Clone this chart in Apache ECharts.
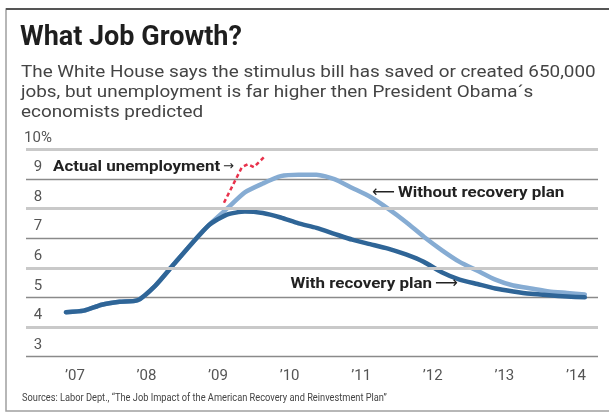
<!DOCTYPE html>
<html>
<head>
<meta charset="utf-8">
<script src="https://cdn.jsdelivr.net/npm/echarts@6/dist/echarts.min.js"></script>
<style>html,body{margin:0;padding:0;background:#fff}#c{width:609px;height:413px}</style>
</head>
<body>
<div id="c"></div>
<script>
// Quarterly points, 2006Q4 .. 2014Q1
const quarters = ['2006Q4','2007Q1','2007Q2','2007Q3','2007Q4','2008Q1','2008Q2','2008Q3','2008Q4',
  '2009Q1','2009Q2','2009Q3','2009Q4','2010Q1','2010Q2','2010Q3','2010Q4','2011Q1','2011Q2','2011Q3','2011Q4',
  '2012Q1','2012Q2','2012Q3','2012Q4','2013Q1','2013Q2','2013Q3','2013Q4','2014Q1'];
const withPlan = [4.5,4.55,4.75,4.85,4.9,5.4,6.1,6.8,7.45,
  7.8,7.9,7.85,7.7,7.5,7.35,7.15,6.95,6.8,6.65,6.45,6.2,
  5.85,5.6,5.45,5.3,5.2,5.12,5.07,5.03,5.0];
const withoutPlan = [4.5,4.55,4.75,4.85,4.9,5.4,6.1,6.8,7.45,
  8.0,8.55,8.85,9.1,9.15,9.15,9.0,8.7,8.4,8.0,7.55,7.05,
  6.6,6.2,5.9,5.6,5.4,5.3,5.2,5.15,5.1];
// Actual unemployment, monthly 2009
const months = ['2009-02','2009-03','2009-04','2009-05','2009-06','2009-07','2009-08','2009-09'];
const actual = [8.2,8.6,9.0,9.4,9.5,9.4,9.6,9.8];
const yearTicks = [2007,2008,2009,2010,2011,2012,2013,2014];
const yTicks = [3,4,5,6,7,8,9,10];
const evenLines = [4,6,8,10];

function qPos(q){ const y=+q.slice(0,4), n=+q.slice(5); return y+(n-1)*0.25+0.125; }
function mPos(m){ const y=+m.slice(0,4), n=+m.slice(5); return y+(n-1)/12; }

const chart = echarts.init(document.getElementById('c'), null, {renderer:'canvas'});
const FF = 'Roboto, "DejaVu Sans", sans-serif';
chart.setOption({
  animation:false,
  backgroundColor:'#fff',
  grid:{left:26,right:11,top:149.5,bottom:56.5},
  xAxis:{type:'value',min:2006.317,max:2014.309,
    axisLine:{show:false},axisTick:{show:false},splitLine:{show:false},
    axisLabel:{customValues:yearTicks,color:'#555',fontSize:15,fontFamily:FF,margin:12,
      formatter:v=>'\u2019'+String(Math.round(v)).slice(2)}},
  yAxis:{type:'value',min:3,max:10,interval:1,
    axisLine:{show:false},axisTick:{show:false},
    splitLine:{show:true,lineStyle:{color:'#8a8a8a',width:1.3}},
    axisLabel:{inside:true,margin:12,align:'center',verticalAlign:'bottom',lineHeight:15,
      padding:[0,0,4,0],color:'#555',fontSize:15,fontFamily:FF,
      formatter:v=>v===10?'10%':String(v)}},
  series:[
    {type:'line',data:[],z:1,silent:true,
      markLine:{silent:true,symbol:['none','none'],label:{show:false},
        lineStyle:{color:'#c9c9c9',width:3,type:'solid'},
        data:evenLines.map(v=>({yAxis:v}))}},
    {name:'Without recovery plan',type:'line',z:3,symbol:'none',smooth:0.2,
      lineStyle:{color:'#86acd3',width:4.5,cap:'round',join:'round'},
      data:quarters.map((q,i)=>[qPos(q),withoutPlan[i]])},
    {name:'With recovery plan',type:'line',z:4,symbol:'none',smooth:0.2,
      lineStyle:{color:'#2f6597',width:4.5,cap:'round',join:'round'},
      data:quarters.map((q,i)=>[qPos(q),withPlan[i]])},
    {name:'Actual unemployment',type:'line',z:5,symbol:'none',
      lineStyle:{color:'#e8324c',width:2.5,type:[4,3]},
      data:months.map((m,i)=>[mPos(m),actual[i]])}
  ],
  graphic:[
    {type:'rect',silent:true,shape:{x:6,y:9,width:700,height:402},style:{fill:'none',stroke:'#a0a0a0',lineWidth:1.5}},
    {type:'line',silent:true,shape:{x1:6,y1:9,x2:609,y2:9},style:{stroke:'#555',lineWidth:2}},
    {type:'text',x:20,y:38,style:{text:'What Job Growth?',font:'bold 27px '+FF,fill:'#1e1e1e',verticalAlign:'middle'}},
    {type:'text',x:21,y:73,scaleX:1.11,style:{text:'The White House says the stimulus bill has saved or created 650,000',font:'17px '+FF,fill:'#444',verticalAlign:'middle'}},
    {type:'text',x:21,y:93,scaleX:1.11,style:{text:'jobs, but unemployment is far higher then President Obama\u00b4s',font:'17px '+FF,fill:'#444',verticalAlign:'middle'}},
    {type:'text',x:21,y:113,scaleX:1.11,style:{text:'economists predicted',font:'17px '+FF,fill:'#444',verticalAlign:'middle'}},
    {type:'text',x:22,y:398,scaleX:0.805,style:{text:'Sources: Labor Dept., \u201cThe Job Impact of the American Recovery and Reinvestment Plan\u201d',font:'11.5px '+FF,fill:'#444',verticalAlign:'middle'}},
    {type:'text',x:53,y:167,z:10,scaleX:1.13,style:{text:'Actual unemployment',font:'bold 15px '+FF,fill:'#222',verticalAlign:'middle'}},
    {type:'text',x:223,y:167,z:10,style:{text:'\u2192',font:'13px "DejaVu Sans"',fill:'#222',verticalAlign:'middle'}},
    {type:'text',x:372,y:193,z:10,style:{text:'\u27f5',font:'16px "DejaVu Sans"',fill:'#222',verticalAlign:'middle'}},
    {type:'text',x:398,y:193,z:10,scaleX:1.13,style:{text:'Without recovery plan',font:'bold 15px '+FF,fill:'#222',verticalAlign:'middle'}},
    {type:'text',x:432,y:284,z:10,scaleX:1.13,style:{text:'With recovery plan',font:'bold 15px '+FF,fill:'#222',align:'right',verticalAlign:'middle'}},
    {type:'text',x:435,y:284,z:10,style:{text:'\u27f6',font:'16px "DejaVu Sans"',fill:'#222',verticalAlign:'middle'}}
  ]
});
</script>
</body>
</html>
